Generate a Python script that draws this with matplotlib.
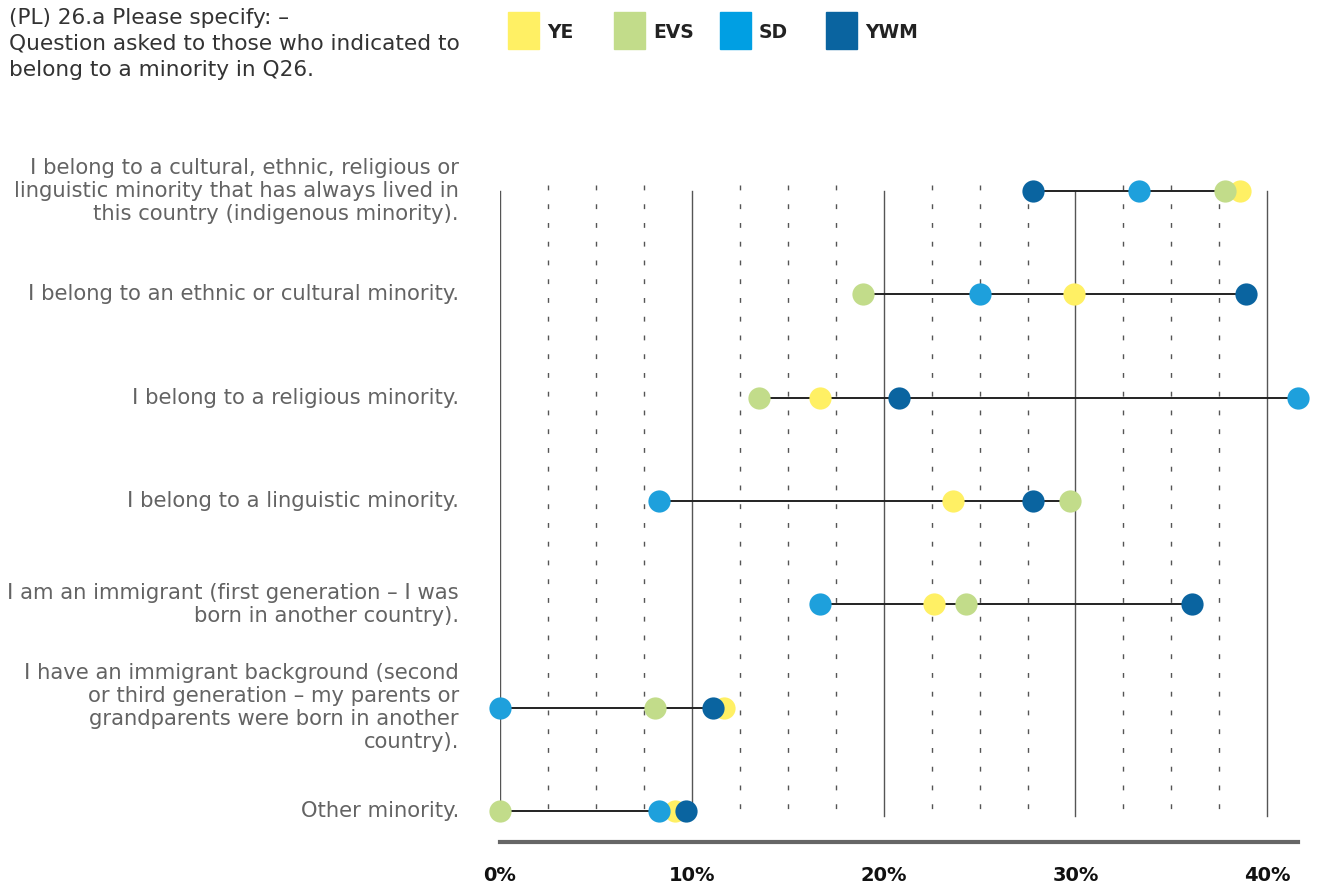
import matplotlib.pyplot as plt
from matplotlib.patches import Rectangle
import numpy as np

categories = [
    "I belong to a cultural, ethnic, religious or\nlinguistic minority that has always lived in\nthis country (indigenous minority).",
    "I belong to an ethnic or cultural minority.",
    "I belong to a religious minority.",
    "I belong to a linguistic minority.",
    "I am an immigrant (first generation \u2013 I was\nborn in another country).",
    "I have an immigrant background (second\nor third generation \u2013 my parents or\ngrandparents were born in another\ncountry).",
    "Other minority.",
]
series = ["YE", "EVS", "SD", "YWM"]
ye = [38.6, 29.9, 16.7, 23.6, 22.6, 11.7, 9.1]
evs = [37.8, 18.9, 13.5, 29.7, 24.3, 8.1, 0.0]
sd = [33.3, 25.0, 41.6, 8.3, 16.7, 0.0, 8.3]
ywm = [27.8, 38.9, 20.8, 27.8, 36.1, 11.1, 9.7]
ticks = [0, 10, 20, 30, 40]

colors = {"YE": "#fff064", "EVS": "#c2dc8a", "SD": "#1ea0dc", "YWM": "#0a64a0"}
legend_colors = {"YE": "#fff064", "EVS": "#c2dc8a", "SD": "#009fe3", "YWM": "#0a64a0"}
values = {"YE": ye, "EVS": evs, "SD": sd, "YWM": ywm}

plt.rcParams['font.family'] = ['DejaVu Sans']

W, H = 1325, 886
fig = plt.figure(figsize=(W / 100, H / 100), dpi=100)
ax = fig.add_axes([500 / W, 1 - 842 / H, 798 / W, 682 / H])
ax.set_xlim(0, 41.6)
ax.set_ylim(6.3, -0.3)

y = np.arange(len(categories))

# grid
for g in np.arange(0, 41, 2.5):
    if g % 10 == 0:
        ax.plot([g, g], [0, 6.05], color="#555555", lw=1, zorder=1)
    else:
        ax.plot([g, g], [-0.06, 6.07], color="#555555", lw=1,
                ls=(0, (3.5, 10)), zorder=1)

# connecting lines
allv = np.array([ye, evs, sd, ywm])
ax.hlines(y, allv.min(axis=0), allv.max(axis=0), color="#222222", lw=1.4, zorder=2)

for s in series:
    ax.plot(values[s], y, "o", ms=16, color=colors[s], mec="none", zorder=3,
            clip_on=False)

for sp in ["top", "right", "left"]:
    ax.spines[sp].set_visible(False)
ax.spines["bottom"].set_color("#666666")
ax.spines["bottom"].set_linewidth(3)
ax.set_xticks(ticks)
ax.set_xticklabels([f"{t}%" for t in ticks], fontsize=14, fontweight="bold",
                   color="#111111")
ax.tick_params(axis="x", length=0, pad=17)
ax.set_yticks([])

for i, c in enumerate(categories):
    ax.text(-2.15, i, c, ha="right", va="center", fontsize=15.2,
            color="#636363", linespacing=1.18)

fig.text(9 / W, 1 - 8 / H,
         "(PL) 26.a Please specify: \u2013\nQuestion asked to those who indicated to\nbelong to a minority in Q26.",
         ha="left", va="top", fontsize=15.6, color="#333333", linespacing=1.36)

lx = [508, 614, 720, 826]
for s, x0 in zip(series, lx):
    fig.add_artist(Rectangle((x0 / W, 1 - 49 / H), 31 / W, 37 / H,
                             transform=fig.transFigure, color=legend_colors[s]))
    fig.text((x0 + 39) / W, 1 - 32 / H, s, ha="left", va="center",
             fontsize=13.5, fontweight="bold", color="#222222")

fig.savefig("out.png", dpi=100)
